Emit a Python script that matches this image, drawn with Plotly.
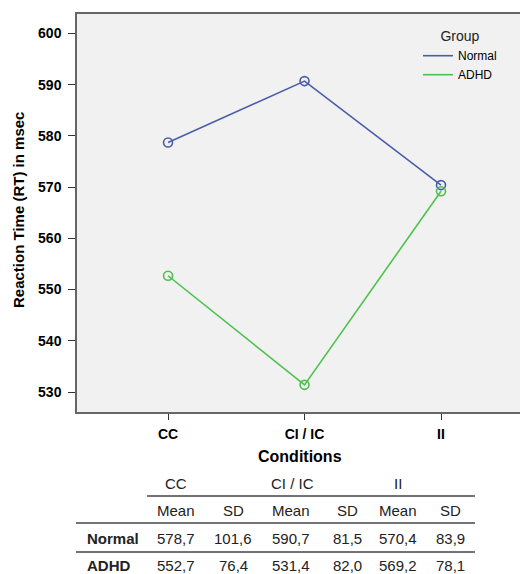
import plotly.graph_objects as go

conditions = ["CC", "CI / IC", "II"]
normal_mean = [578.7, 590.7, 570.4]
normal_sd = [101.6, 81.5, 83.9]
adhd_mean = [552.7, 531.4, 569.2]
adhd_sd = [76.4, 82.0, 78.1]
groups = ["Normal", "ADHD"]
yticks = [530, 540, 550, 560, 570, 580, 590, 600]

# page has an 8px body margin; figure placed so page pixels match reference
OFF = 8
W, H = 528, 574 - OFF
PL, PT, PR, PB = 77, 14, 536, 412  # plot area in page pixels (right edge runs past the window)
L, T = PL - OFF, PT - OFF
R, B = 0, (574 - PB)
PW, PH = PR - PL, PB - PT

def px(x):
    return (x - PL) / PW

def py(y):
    return (PB - y) / PH

BLUE = "#4a5ea8"
GREEN = "#4cc24c"
FONT = "Liberation Sans, Arial, sans-serif"

fig = go.Figure()
xs = list(range(len(conditions)))
for name, vals, col in [("Normal", normal_mean, BLUE), ("ADHD", adhd_mean, GREEN)]:
    fig.add_trace(go.Scatter(
        x=xs, y=vals, name=name, mode="lines",
        line=dict(color=col, width=1.6), showlegend=True))
    fig.add_trace(go.Scatter(
        x=xs, y=vals, mode="markers", showlegend=False,
        marker=dict(symbol="circle-open", size=9, color=col, line=dict(width=1.6))))

fig.update_layout(
    width=W, height=H,
    margin=dict(l=L, r=R, t=T, b=B, pad=0),
    paper_bgcolor="white", plot_bgcolor="#f1f1f1",
    font=dict(family=FONT, color="black"),
    legend=dict(
        title=dict(text="Group", side="top center", font=dict(size=14, color="#222")),
        x=px(418), y=py(23), xanchor="left", yanchor="top",
        bgcolor="rgba(0,0,0,0)", font=dict(size=12, color="black"),
        itemwidth=30, tracegroupgap=0,
    ),
    xaxis=dict(
        range=[-0.667, 2.696], tickvals=xs, ticktext=["<b>%s</b>" % c for c in conditions],
        tickfont=dict(size=14), ticks="outside", ticklen=6, tickcolor="#333",
        showline=True, linecolor="#666", linewidth=1.5, mirror=True,
        showgrid=False, zeroline=False, ticklabelstandoff=2,
    ),
    yaxis=dict(
        range=[526.1, 603.8], tickvals=yticks, ticktext=["<b>%d</b>" % v for v in yticks],
        tickfont=dict(size=14), ticks="outside", ticklen=7, tickcolor="#333",
        showline=True, linecolor="#666", linewidth=1.5,
        showgrid=False, zeroline=False, ticklabelstandoff=4,
    ),
)

ann = []
ann.append(dict(text="<b>Conditions</b>", x=px(300), y=py(456), xref="paper", yref="paper",
                showarrow=False, font=dict(size=16), xanchor="center", yanchor="middle"))
ann.append(dict(text="<b>Reaction Time (RT) in msec</b>", x=px(18), y=py(210), xref="paper", yref="paper",
                showarrow=False, font=dict(size=15), textangle=-90, xanchor="center", yanchor="middle"))

# table
TF = 15
col_x = [176, 233, 291, 347, 398, 450]
head_x = [176, 292, 398]
for c, hx in zip(conditions, head_x):
    ann.append(dict(text=c, x=px(hx), y=py(483), xref="paper", yref="paper", showarrow=False,
                    font=dict(size=TF, color="#222"), xanchor="center", yanchor="middle"))
for i, cx in enumerate(col_x):
    ann.append(dict(text="Mean" if i % 2 == 0 else "SD", x=px(cx), y=py(510), xref="paper", yref="paper",
                    showarrow=False, font=dict(size=TF, color="#222"), xanchor="center", yanchor="middle"))

def fmt(v):
    return ("%.1f" % v).replace(".", ",")

for g, means, sds, ry in [("Normal", normal_mean, normal_sd, 538), ("ADHD", adhd_mean, adhd_sd, 565)]:
    ann.append(dict(text="<b>%s</b>" % g, x=px(85), y=py(ry), xref="paper", yref="paper", showarrow=False,
                    font=dict(size=TF, color="#222"), xanchor="left", yanchor="middle"))
    vals = []
    for m, s in zip(means, sds):
        vals += [m, s]
    for v, cx in zip(vals, col_x):
        ann.append(dict(text=fmt(v), x=px(cx), y=py(ry), xref="paper", yref="paper", showarrow=False,
                        font=dict(size=TF, color="#222"), xanchor="center", yanchor="middle"))

shapes = []
for (x0, x1, yy) in [(147, 475, 496), (76, 475, 523), (76, 475, 552)]:
    shapes.append(dict(type="line", xref="paper", yref="paper", x0=px(x0), x1=px(x1), y0=py(yy), y1=py(yy),
                       line=dict(color="#444", width=1.5)))

fig.update_layout(annotations=ann, shapes=shapes)
fig.write_html("out.html",
               post_script="document.documentElement.style.overflow='hidden';document.body.style.overflow='hidden';")
